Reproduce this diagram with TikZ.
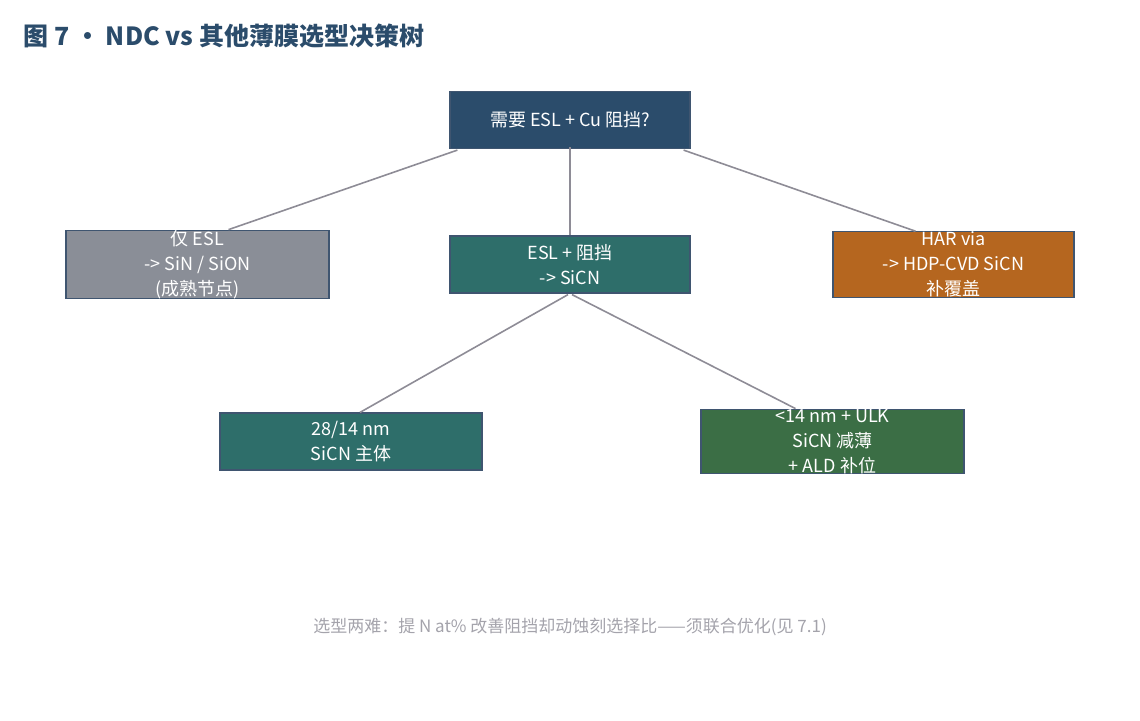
\documentclass[tikz,border=0pt]{standalone}
\usepackage{fontspec}
\setmainfont{Noto Sans CJK SC}
\usetikzlibrary{calc}
\definecolor{navy}{HTML}{2B4C6B}
\definecolor{slate}{HTML}{8A8E97}
\definecolor{teal}{HTML}{2E6E6A}
\definecolor{rust}{HTML}{B5661F}
\definecolor{moss}{HTML}{3B6E45}
\definecolor{wire}{HTML}{8E8C96}
\definecolor{rim}{HTML}{3F5570}
\begin{document}
\begin{tikzpicture}[x=1pt,y=-1pt]
  \tikzset{box/.style = {draw=rim,line width=1.2pt,minimum width=#1,minimum height=57pt,inner sep=0pt,
      text=white,align=center,font=\fontsize{18}{25}\selectfont}}
  \tikzset{link/.style = {draw=wire,line width=1.6pt}}
  \useasboundingbox (0,0) rectangle (1140,720);
  \node[anchor=west,text=navy,font=\fontsize{25}{30}\selectfont\bfseries] (title) at (20,36) {图 7 · NDC vs 其他薄膜选型决策树};

  \node[box=240pt,fill=navy] (q) at (570,120) {需要 ESL + Cu 阻挡?};

  \node[box=263pt,fill=slate] (esl) at (197.5,264.5) {仅 ESL\\-> SiN / SiON\\(成熟节点)};
  \node[box=240pt,fill=teal] (mid) at (570,264.5) {ESL + 阻挡\\-> SiCN};
  \node[box=241pt,fill=rust] (har) at (953.5,264.5) {HAR via\\-> HDP-CVD SiCN\\补覆盖};

  \node[box=262pt,fill=teal] (main) at (351,441.5) {28/14 nm\\SiCN 主体};
  \node[box=263pt,fill=moss] (ulk) at (832.5,441.5) {<14 nm + ULK\\SiCN 减薄\\+ ALD 补位};

  \begin{scope}[on background layer/.try]
    \draw[link] ([shift={(8,1)}]q.south west) -- ([xshift=31]esl.north);
    \draw[link] ([yshift=2]q.south) -- (mid.north);
    \draw[link] ([shift={(-7,1)}]q.south east) -- ([xshift=-38]har.north);
    \draw[link] ([shift={(-2,1)}]mid.south) -- ([xshift=9]main.north);
    \draw[link] ([shift={(2,1)}]mid.south) -- ([xshift=-37]ulk.north);
  \end{scope}

  \node[text=wire!80,font=\fontsize{17}{20}\selectfont] (note) at (570,627)
    {选型两难：提 N at\% 改善阻挡却动蚀刻选择比——须联合优化(见 7.1)};
\end{tikzpicture}
\end{document}
